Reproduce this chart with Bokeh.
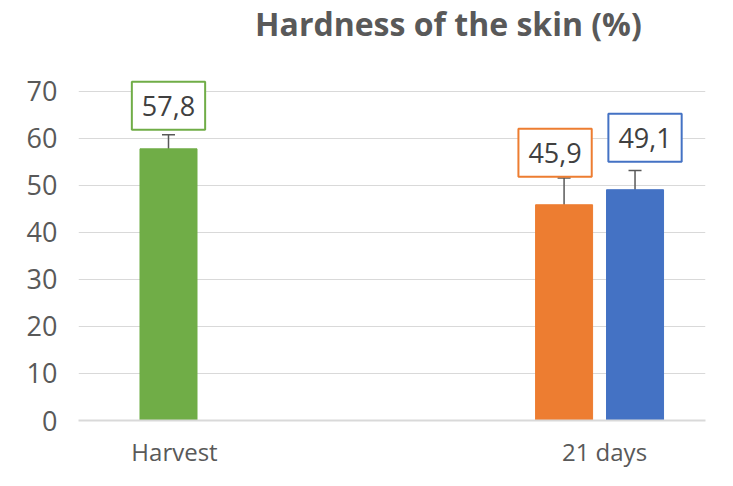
from bokeh.plotting import figure
from bokeh.models import Range1d, FixedTicker, Whisker, ColumnDataSource, Label, TeeHead
from bokeh.embed import file_html
from bokeh.resources import INLINE

# ---- data ----
title_text = "Hardness of the skin (%)"
categories = ["Harvest", "21 days"]
bar_category = ["Harvest", "21 days", "21 days"]
bar_values = [57.8, 45.9, 49.1]
bar_errors = [3.0, 5.7, 4.1]
bar_labels = ["57,8", "45,9", "49,1"]
y_ticks = [0, 10, 20, 30, 40, 50, 60, 70]

# ---- styles ----
colors = ["#70AD47", "#ED7D31", "#4472C4"]
dodge = [-0.014, -0.094, 0.071]
label_shift = [(0, 43), (-9, 52), (10, 52)]
GRAY = "#595959"
FONT = "Open Sans"

cat_pos = {c: i + 1 for i, c in enumerate(categories)}
xs = [cat_pos[c] + d for c, d in zip(bar_category, dodge)]

src = ColumnDataSource(dict(
    x=xs, top=bar_values, color=colors,
    upper=[v + e for v, e in zip(bar_values, bar_errors)],
    lower=[v - e for v, e in zip(bar_values, bar_errors)],
))

x_range = Range1d(0.7767, 2.2349)
y_range = Range1d(0, 89.36)   # headroom above the 70 gridline holds title and labels

p = figure(width=717, height=470, output_backend="svg", toolbar_location=None,
           x_range=x_range, y_range=y_range,
           min_border_left=78, min_border_right=12, min_border_top=0, min_border_bottom=50)
p.outline_line_color = None

p.vbar(x="x", top="top", bottom=0, width=0.1326, color="color", source=src)

w = Whisker(base="x", upper="upper", lower="lower", source=src,
            line_color=GRAY, line_width=1.5,
            upper_head=TeeHead(size=13, line_color=GRAY, line_width=1.5),
            lower_head=TeeHead(size=13, line_color=GRAY, line_width=1.5))
p.add_layout(w)

for x, v, t, c, (dx, dy) in zip(xs, bar_values, bar_labels, colors, label_shift):
    lab = Label(x=x, y=v, text=t, x_offset=dx, y_offset=dy,
                text_align="center", text_baseline="middle",
                text_font=FONT, text_font_size="27px", text_color="#404040",
                border_line_color=c, border_line_width=2,
                background_fill_color="white",
                padding=dict(left=10, right=10, top=14, bottom=14))
    p.add_layout(lab)

# chart title, placed in the headroom of the frame
title = Label(x=x_range.start + 0.590 * (x_range.end - x_range.start),
              y=y_range.end * 0.946, text=title_text,
              text_align="center", text_baseline="alphabetic",
              text_font=FONT, text_font_size="32px", text_font_style="bold",
              text_color=GRAY)
p.add_layout(title)

p.xgrid.grid_line_color = None
p.ygrid.grid_line_color = "#d9d9d9"
p.ygrid.grid_line_width = 1

p.yaxis.ticker = FixedTicker(ticks=y_ticks)
p.yaxis.axis_line_color = None
p.yaxis.major_tick_line_color = None
p.yaxis.minor_tick_line_color = None
p.yaxis.major_label_text_font = FONT
p.yaxis.major_label_text_font_size = "27px"
p.yaxis.major_label_text_color = GRAY
p.yaxis.major_label_standoff = 15

p.xaxis.ticker = FixedTicker(ticks=[cat_pos[c] for c in categories])
p.xaxis.major_label_overrides = {cat_pos[c]: c for c in categories}
p.xaxis.axis_line_color = "#d9d9d9"
p.xaxis.axis_line_width = 2
p.xaxis.major_tick_line_color = None
p.xaxis.minor_tick_line_color = None
p.xaxis.major_label_text_font = FONT
p.xaxis.major_label_text_font_size = "24px"
p.xaxis.major_label_text_color = GRAY
p.xaxis.major_label_standoff = 8

open("out.html", "w").write(file_html(p, INLINE))
